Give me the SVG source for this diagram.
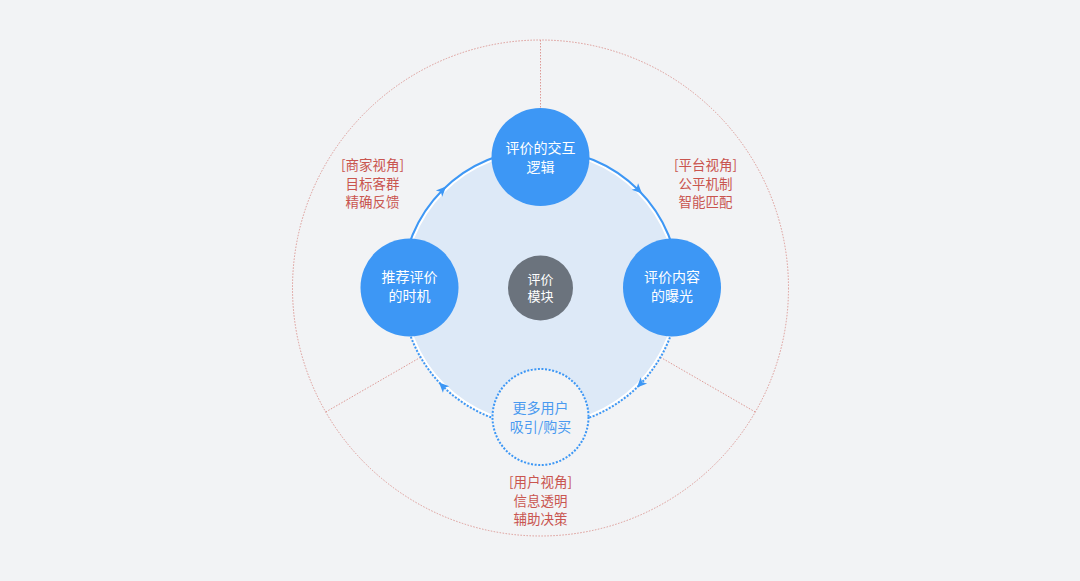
<svg xmlns="http://www.w3.org/2000/svg" width="1080" height="581" viewBox="0 0 1080 581">
<style>
.bg{fill:#f2f3f5}
.guide{fill:none;stroke:#dd9a96;stroke-width:1;stroke-dasharray:1.5 1.5}
.arc{fill:none;stroke:#3d97f5;stroke-width:2}
.dot{stroke-dasharray:2 1.6}
.node{fill:#3d97f5}
.t{font-family:"Noto Sans CJK SC","Noto Sans",sans-serif;font-size:14px;text-anchor:middle}
.w{fill:#ffffff}
.lab{fill:#c9554f;font-size:13.5px}
.b{fill:#4a9af0}
</style>
<defs>
<marker id="ah" markerUnits="userSpaceOnUse" markerWidth="12" markerHeight="12" refX="6" refY="6" orient="auto">
<path d="M1,1.5 L11,6 L1,10.5 L3.5,6 Z" fill="#3d97f5"/>
</marker>
</defs>
<rect class="bg" x="0" y="0" width="1080" height="581"/>
<g id="guides">
<circle class="guide" cx="540.5" cy="288" r="248"/>
<line class="guide" x1="540.5" y1="40" x2="540.5" y2="150"/>
<line class="guide" x1="325.7" y1="412" x2="420.5" y2="357.3"/>
<line class="guide" x1="755.3" y1="412" x2="660.5" y2="357.3"/>
</g>
<circle id="inner" cx="540.5" cy="288" r="136.5" fill="#dde9f7" stroke="#ffffff" stroke-width="2"/>
<g id="connectors">
<path class="arc" marker-mid="url(#ah)" d="M402,288 A138.5,138.5 0 0 1 442.56,190.06 A138.5,138.5 0 0 1 540.5,149.5"/>
<path class="arc" marker-mid="url(#ah)" d="M540.5,149.5 A138.5,138.5 0 0 1 638.44,190.06 A138.5,138.5 0 0 1 679,288"/>
<path class="arc dot" marker-mid="url(#ah)" d="M679,288 A138.5,138.5 0 0 1 640.44,383.94 A138.5,138.5 0 0 1 540.5,426.5"/>
<path class="arc dot" marker-mid="url(#ah)" d="M540.5,426.5 A138.5,138.5 0 0 1 442.56,385.94 A138.5,138.5 0 0 1 402,288"/>
</g>
<g id="node-top">
<circle class="node" cx="540.5" cy="157" r="49"/>
<text class="t w" x="540.5" y="153">评价的交互</text>
<text class="t w" x="540.5" y="172">逻辑</text>
</g>
<g id="node-left">
<circle class="node" cx="409.5" cy="287.5" r="49"/>
<text class="t w" x="409.5" y="282">推荐评价</text>
<text class="t w" x="409.5" y="301">的时机</text>
</g>
<g id="node-right">
<circle class="node" cx="672" cy="287.5" r="49"/>
<text class="t w" x="672" y="282">评价内容</text>
<text class="t w" x="672" y="301">的曝光</text>
</g>
<g id="node-bottom">
<circle cx="540.5" cy="417" r="48" fill="#f2f3f5" stroke="#3d97f5" stroke-width="2" stroke-dasharray="2 1.6"/>
<text class="t b" x="540.5" y="413">更多用户</text>
<text class="t b" x="540.5" y="432">吸引/购买</text>
</g>
<g id="node-center">
<circle cx="540.5" cy="288" r="32.5" fill="#6b737d"/>
<text class="t w" x="540.5" y="283.5" style="font-size:13px">评价</text>
<text class="t w" x="540.5" y="301" style="font-size:13px">模块</text>
</g>
<g id="label-merchant">
<text class="t lab" x="372.5" y="170">[商家视角]</text>
<text class="t lab" x="372.5" y="188.5">目标客群</text>
<text class="t lab" x="372.5" y="207">精确反馈</text>
</g>
<g id="label-platform">
<text class="t lab" x="705.5" y="170">[平台视角]</text>
<text class="t lab" x="705.5" y="188.5">公平机制</text>
<text class="t lab" x="705.5" y="207">智能匹配</text>
</g>
<g id="label-user">
<text class="t lab" x="540.5" y="487">[用户视角]</text>
<text class="t lab" x="540.5" y="505.5">信息透明</text>
<text class="t lab" x="540.5" y="524">辅助决策</text>
</g>
</svg>
